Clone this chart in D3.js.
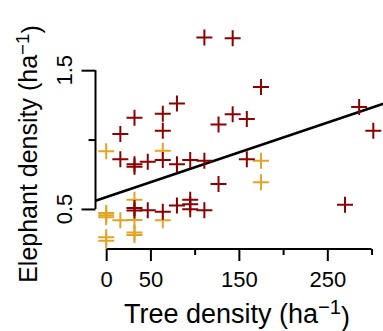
<!DOCTYPE html>
<html>
<head>
<meta charset="utf-8">
<script src="https://cdn.jsdelivr.net/npm/d3@7"></script>
<style>
  body { margin: 0; background: #fff; }
  text { font-family: "Liberation Sans", Arial, sans-serif; fill: #000; }
</style>
</head>
<body>
<div id="chart"></div>
<script>
// Red crosses: tree density vs elephant density
var redTree = [111, 143, 175, 80, 286, 64, 143, 32, 159, 127, 64, 302, 16,
               16, 32, 32, 47, 64, 80, 95, 111, 159, 127,
               95, 95, 95, 111, 270, 32, 32, 47, 64, 80];
var redElephant = [1.736, 1.730, 1.378, 1.260, 1.234, 1.186, 1.182, 1.158, 1.148, 1.108, 1.064, 1.064, 1.040,
                   0.858, 0.822, 0.804, 0.840, 0.852, 0.822, 0.852, 0.848, 0.858, 0.680,
                   0.566, 0.534, 0.498, 0.490, 0.530, 0.506, 0.488, 0.490, 0.480, 0.524];

// Gold crosses
var goldTree = [0, 64, 175, 175, 32, 0, 0, 0, 16, 0, 0, 32, 32, 32, 64];
var goldElephant = [0.916, 0.920, 0.848, 0.692, 0.566, 0.470, 0.454, 0.440, 0.418,
                    0.296, 0.270, 0.420, 0.330, 0.312, 0.418];

// Fitted line
var intercept = 0.585;
var slope = 0.002148;

var xTicksMajor = [0, 50, 150, 250];
var xTicksMinor = [100, 200, 300];
var yTicksMajor = [0.5, 1.5];
var yTicksMinor = [1.0];

var W = 383, H = 331;
var plot = {left: 95.5, right: 384, top: 29.3, bottom: 249};

// R style 4% padding around data range
function padded(vals) {
    var ext = d3.extent(vals);
    var p = (ext[1] - ext[0]) * 0.04;
    return [ext[0] - p, ext[1] + p];
}
var allX = redTree.concat(goldTree);
var allY = redElephant.concat(goldElephant);

var x = d3.scaleLinear().domain(padded(allX)).range([plot.left, plot.right]);
var y = d3.scaleLinear().domain(padded(allY)).range([plot.bottom, plot.top]);

var svg = d3.select("#chart").append("svg")
    .attr("width", W)
    .attr("height", H);

// x axis
svg.append("line")
    .attr("x1", x(0)).attr("x2", x(300))
    .attr("y1", plot.bottom).attr("y2", plot.bottom)
    .attr("stroke", "#000").attr("stroke-width", 2);

var xMajor = svg.append("g")
    .attr("transform", "translate(0," + plot.bottom + ")")
    .call(d3.axisBottom(x).tickValues(xTicksMajor).tickSize(12).tickPadding(10.5));
var xMinor = svg.append("g")
    .attr("transform", "translate(0," + plot.bottom + ")")
    .call(d3.axisBottom(x).tickValues(xTicksMinor).tickSize(6).tickFormat(""));

// y axis
svg.append("line")
    .attr("x1", plot.left).attr("x2", plot.left)
    .attr("y1", y(0.5)).attr("y2", y(1.5))
    .attr("stroke", "#000").attr("stroke-width", 2);

var yMajor = svg.append("g")
    .attr("transform", "translate(" + plot.left + ",0)")
    .call(d3.axisLeft(y).tickValues(yTicksMajor).tickSize(14).tickFormat(""));
var yMinor = svg.append("g")
    .attr("transform", "translate(" + plot.left + ",0)")
    .call(d3.axisLeft(y).tickValues(yTicksMinor).tickSize(7).tickFormat(""));

[xMajor, xMinor, yMajor, yMinor].forEach(function(g) {
    g.select(".domain").remove();
    g.selectAll(".tick line").attr("stroke", "#000").attr("stroke-width", 2);
});
xMajor.selectAll(".tick text")
    .style("font-size", "22px")
    .style("font-family", "Liberation Sans, Arial, sans-serif")
    .attr("fill", "#000");

svg.append("g").selectAll("text")
    .data(yTicksMajor)
    .enter().append("text")
    .attr("transform", function(d) { return "translate(72," + y(d) + ") rotate(-90)"; })
    .attr("text-anchor", "middle")
    .style("font-size", "22px")
    .text(function(d) { return d3.format(".1f")(d); });

// regression line
var xd = x.domain();
svg.append("line")
    .attr("x1", x(xd[0])).attr("y1", y(intercept + slope * xd[0]))
    .attr("x2", x(xd[1])).attr("y2", y(intercept + slope * xd[1]))
    .attr("stroke", "#000").attr("stroke-width", 2.6);

// crosses
function crosses(xs, ys, color) {
    svg.append("g").selectAll("path")
        .data(xs)
        .enter().append("path")
        .attr("d", function(d, i) {
            var cx = x(d), cy = y(ys[i]);
            return "M" + (cx - 8) + "," + cy + "H" + (cx + 8) +
                   "M" + cx + "," + (cy - 8) + "V" + (cy + 8);
        })
        .attr("fill", "none")
        .attr("stroke", color)
        .attr("stroke-width", 2);
}
crosses(goldTree, goldElephant, "#e3a426");
crosses(redTree, redElephant, "#8b0000");

// axis titles
function title(sel, label) {
    sel.append("tspan").text(label + " (ha");
    sel.append("tspan").attr("dy", "-0.45em").style("font-size", "75%").text("\u22121");
    sel.append("tspan").attr("dy", "0.45em").text(")");
}
var xt = svg.append("text")
    .attr("x", 237).attr("y", 323)
    .attr("text-anchor", "middle")
    .style("font-size", "27px");
title(xt, "Tree density");

var yt = svg.append("text")
    .attr("transform", "translate(37,154) rotate(-90)")
    .attr("text-anchor", "middle")
    .style("font-size", "25px");
title(yt, "Elephant density");
</script>
</body>
</html>
